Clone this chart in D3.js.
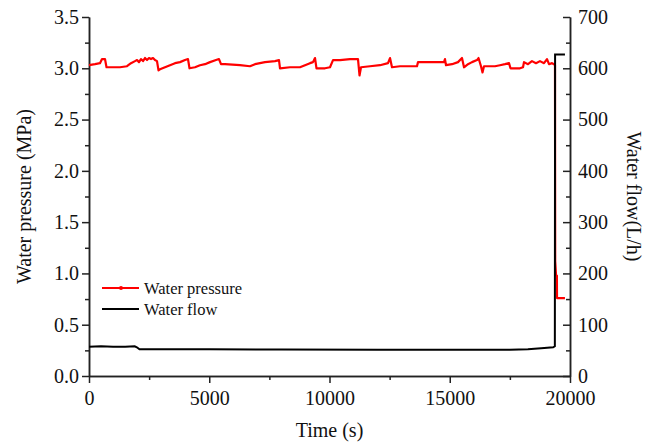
<!DOCTYPE html>
<html>
<head>
<meta charset="utf-8">
<script src="https://cdn.jsdelivr.net/npm/d3@7"></script>
<style>
  body { margin: 0; background: #fff; }
  svg text { font-family: "Liberation Serif", "Times New Roman", serif; fill: #111; }
</style>
</head>
<body>
<svg id="chart" width="656" height="444"></svg>
<script>
// time (s) and water pressure (MPa)
const pressureTime = [0, 250, 457, 541, 665, 728, 1289, 1580, 1746, 1913, 1996, 2079, 2162, 2245, 2328, 2412, 2495, 2578, 2661, 2744, 2827, 2890,
  2952, 3160, 3368, 3576, 3784, 3992, 4116, 4179, 4407, 4615, 4823, 5031, 5281, 5405, 5489, 5655, 6279, 6694, 6902, 7318, 7734, 7900,
  7942, 8358, 8773, 8981, 9189, 9314, 9397, 9459, 9813, 10021, 10146, 10437, 10852, 11185, 11248, 11310, 11684, 12100, 12432, 12516,
  12599, 12931, 13347, 13638, 13680, 14179, 14761, 14802, 14844, 15094, 15343, 15509, 15593, 15759, 15925, 16133, 16196, 16299, 16362,
  16424, 16881, 17089, 17297, 17464, 17526, 17920, 18046, 18087, 18253, 18420, 18586, 18752, 18919, 19044, 19127, 19252, 19335, 19376,
  19385, 19420, 19455, 19460, 19790];
const pressure = [3.03, 3.04, 3.05, 3.09, 3.09, 3.01, 3.01, 3.02, 3.05, 3.07, 3.08, 3.06, 3.09, 3.07, 3.10, 3.08, 3.10, 3.09, 3.10, 3.08, 3.07, 2.98,
  2.99, 3.01, 3.03, 3.05, 3.06, 3.08, 3.09, 3.00, 3.01, 3.03, 3.04, 3.06, 3.08, 3.09, 3.04, 3.04, 3.03, 3.02, 3.04, 3.06, 3.07, 3.08,
  3.00, 3.01, 3.01, 3.03, 3.05, 3.06, 3.10, 3.00, 3.00, 3.01, 3.08, 3.08, 3.09, 3.09, 2.93, 3.01, 3.02, 3.03, 3.05, 3.10,
  3.01, 3.02, 3.02, 3.02, 3.06, 3.06, 3.06, 3.09, 3.03, 3.04, 3.06, 3.10, 3.01, 3.04, 3.06, 3.08, 3.10, 3.02, 2.96,
  3.02, 3.02, 3.03, 3.04, 3.05, 3.00, 3.00, 3.01, 3.06, 3.04, 3.07, 3.05, 3.07, 3.05, 3.09, 3.04, 3.05, 3.04, 3.03,
  1.12, 0.98, 0.98, 0.76, 0.76];

// time (s) and water flow (L/h)
const flowTime = [0, 500, 1000, 1500, 1900, 1990, 2100, 5000, 8000, 12000, 16000, 17500, 18250, 18800, 19300, 19370, 19380, 19790];
const flow = [57, 58, 57, 57, 58, 56, 52, 52, 51.5, 51, 51, 51, 52, 54, 56, 58, 627, 627];

const timeTicks = [0, 5000, 10000, 15000, 20000];
const pressureTicks = [0, 0.5, 1.0, 1.5, 2.0, 2.5, 3.0, 3.5];
const flowTicks = [0, 100, 200, 300, 400, 500, 600, 700];
const legendLabels = ['Water pressure', 'Water flow'];

const svg = d3.select('#chart');
const plotLeft = 89, plotRight = 570, plotTop = 17, plotBottom = 376;

const x = d3.scaleLinear().domain([0, 20000]).range([plotLeft, plotRight]);
const yP = d3.scaleLinear().domain([0, 3.5]).range([plotBottom, plotTop]);
const yF = d3.scaleLinear().domain([0, 700]).range([plotBottom, plotTop]);

svg.append('rect').attr('width', 656).attr('height', 444).attr('fill', '#fff');

// minor ticks halfway between the majors
const minorOf = function (ticks) {
  let out = [];
  for (let i = 0; i < ticks.length - 1; i++) out.push((ticks[i] + ticks[i + 1]) / 2);
  return out;
};

function styleAxis (g) {
  g.selectAll('path, line').attr('stroke', '#222').attr('stroke-width', 1.5);
  g.selectAll('text').attr('font-size', 20).attr('fill', '#111');
}

// bottom
svg.append('g').attr('transform', `translate(0,${plotBottom})`)
  .call(d3.axisBottom(x).tickValues(minorOf(timeTicks)).tickSize(4).tickSizeOuter(0).tickFormat(''))
  .call(styleAxis);
svg.append('g').attr('transform', `translate(0,${plotBottom})`)
  .call(d3.axisBottom(x).tickValues(timeTicks).tickSize(7).tickSizeOuter(0).tickPadding(8).tickFormat(d3.format('d')))
  .call(styleAxis);

// left
svg.append('g').attr('transform', `translate(${plotLeft},0)`)
  .call(d3.axisLeft(yP).tickValues(minorOf(pressureTicks)).tickSize(4).tickSizeOuter(0).tickFormat(''))
  .call(styleAxis);
svg.append('g').attr('transform', `translate(${plotLeft},0)`)
  .call(d3.axisLeft(yP).tickValues(pressureTicks).tickSize(7).tickSizeOuter(0).tickPadding(3).tickFormat(d3.format('.1f')))
  .call(styleAxis);

// right, ticks pointing inward
svg.append('g').attr('transform', `translate(${plotRight},0)`)
  .call(d3.axisRight(yF).tickValues(minorOf(flowTicks)).tickSize(-4).tickSizeOuter(0).tickFormat(''))
  .call(styleAxis);
svg.append('g').attr('transform', `translate(${plotRight},0)`)
  .call(d3.axisRight(yF).tickValues(flowTicks).tickSize(-7).tickSizeOuter(0).tickPadding(8).tickFormat(d3.format('d')))
  .call(styleAxis);

// lines
const pressureLine = d3.line().x((d, i) => x(pressureTime[i])).y(d => yP(d));
const flowLine = d3.line().x((d, i) => x(flowTime[i])).y(d => yF(d));

svg.append('path').datum(pressure).attr('d', pressureLine)
  .attr('fill', 'none').attr('stroke', '#ff0000').attr('stroke-width', 2.2).attr('stroke-linejoin', 'round');
svg.append('path').datum(flow).attr('d', flowLine)
  .attr('fill', 'none').attr('stroke', '#000').attr('stroke-width', 2).attr('stroke-linejoin', 'miter');

// titles
svg.append('text').attr('x', (plotLeft + plotRight) / 2).attr('y', 437).attr('text-anchor', 'middle')
  .attr('font-size', 20).text('Time (s)');
svg.append('text').attr('transform', `translate(31,${(plotTop + plotBottom) / 2}) rotate(-90)`).attr('text-anchor', 'middle')
  .attr('font-size', 20).text('Water pressure (MPa)');
svg.append('text').attr('transform', `translate(627,${(plotTop + plotBottom) / 2}) rotate(90)`).attr('text-anchor', 'middle')
  .attr('font-size', 20).text('Water flow(L/h)');

// legend
const legendColors = ['#ff0000', '#000'];
const legend = svg.append('g');
legendLabels.forEach(function (label, i) {
  const ly = 288 + i * 21;
  legend.append('line').attr('x1', 102).attr('x2', 139).attr('y1', ly).attr('y2', ly)
    .attr('stroke', legendColors[i]).attr('stroke-width', 2);
  if (i === 0) {
    legend.append('circle').attr('cx', 121).attr('cy', ly).attr('r', 2).attr('fill', legendColors[i]);
  }
  legend.append('text').attr('x', 144).attr('y', ly + 5.5).attr('font-size', 16.5).text(label);
});
</script>
</body>
</html>
